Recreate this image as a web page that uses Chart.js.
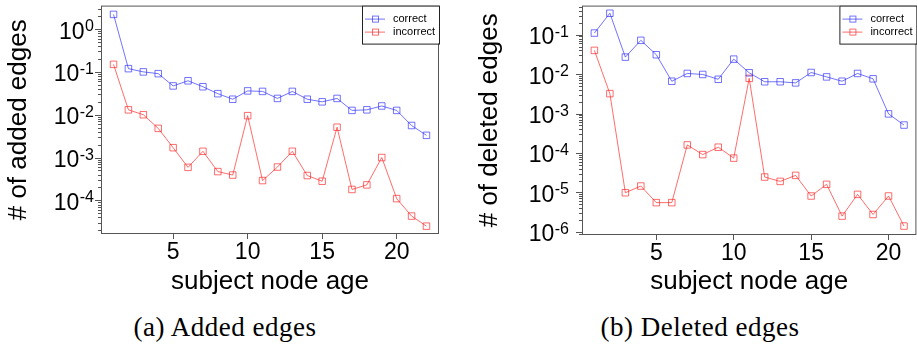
<!DOCTYPE html>
<html>
<head>
<meta charset="utf-8">
<script src="https://cdn.jsdelivr.net/npm/chart.js@4.4.1/dist/chart.umd.min.js"></script>
<style>
  body { margin: 0; background: #fff; width: 917px; height: 354px; overflow: hidden; position: relative; }
  canvas { position: absolute; top: 0; }
  #added { left: 0; }
  #deleted { left: 460px; }
  .cap { position: absolute; top: 314px; width: 450px; text-align: center;
         font-family: 'Liberation Serif', serif; font-size: 27px; line-height: 27px;
         letter-spacing: 0.5px; color: #000; white-space: nowrap; }
</style>
</head>
<body>
<canvas id="added" width="460" height="300"></canvas>
<canvas id="deleted" width="462" height="300"></canvas>
<div class="cap" style="left:0">(a) Added edges</div>
<div class="cap" style="left:475px">(b) Deleted edges</div>
<script>
// subject node age on the x axis
const agesAdded = [1, 2, 3, 4, 5, 6, 7, 8, 9, 10, 11, 12, 13, 14, 15, 16, 17, 18, 19, 20, 21, 22];
const agesDeleted = [1, 2, 3, 4, 5, 6, 7, 8, 9, 10, 11, 12, 13, 14, 15, 16, 17, 18, 19, 20, 21];

// # of added edges
const addedCorrect = [2.2, 0.119, 0.10, 0.091, 0.047, 0.062, 0.045, 0.031, 0.023, 0.036, 0.035,
                      0.024, 0.035, 0.023, 0.020, 0.024, 0.0126, 0.013, 0.016, 0.0126, 0.0056, 0.0033];
const addedIncorrect = [0.15, 0.013, 0.010, 0.0048, 0.0017, 0.00059, 0.0014, 0.00047, 0.00039, 0.0095, 0.00029,
                        0.0006, 0.0014, 0.00038, 0.00028, 0.0051, 0.00018, 0.00023, 0.0010, 0.00011, 0.000043, 0.000025];

// # of deleted edges
const deletedCorrect = [0.11, 0.35, 0.027, 0.072, 0.031, 0.0066, 0.0104, 0.0098, 0.0074, 0.024, 0.0108,
                        0.0064, 0.0064, 0.006, 0.011, 0.0085, 0.0066, 0.0104, 0.0076, 0.00098, 0.00051];
const deletedIncorrect = [0.04, 0.0032, 9.8e-6, 1.45e-5, 5.5e-6, 5.5e-6, 1.6e-4, 9.1e-5, 1.4e-4, 7.4e-5, 0.0078,
                          2.45e-5, 1.9e-5, 2.7e-5, 8.1e-6, 1.6e-5, 2.5e-6, 8.9e-6, 2.75e-6, 8.1e-6, 1.4e-6];

// tick labels
const xTicks = [5, 10, 15, 20];
const yExpAdded = [0, -1, -2, -3, -4];
const yExpDeleted = [-1, -2, -3, -4, -5, -6];
const seriesNames = ['correct', 'incorrect'];

const SANS = "'Liberation Sans', Arial, sans-serif";
const BLUE = 'rgba(40, 40, 255, 0.65)';
const RED = 'rgba(255, 30, 30, 0.65)';
const AXIS = '#555';

/* draws the R-style box, log ticks with 10^n labels, y title and legend */
const frame = (o) => ({
    id: 'frame',
    afterDraw(chart) {
        const ctx = chart.ctx;
        const a = chart.chartArea;
        const ys = chart.scales.y;
        ctx.save();
        ctx.strokeStyle = AXIS;
        ctx.lineWidth = 1;
        ctx.strokeRect(a.left + 0.5, a.top + 0.5, a.right - a.left - 1, a.bottom - a.top - 1);

        // major + minor ticks
        const lo = Math.floor(Math.log10(ys.min)), hi = Math.ceil(Math.log10(ys.max));
        ctx.beginPath();
        for (let d = lo; d <= hi; d++) {
            for (let k = 1; k <= 9; k++) {
                const v = k * Math.pow(10, d);
                if (v < ys.min || v > ys.max) continue;
                const py = Math.round(ys.getPixelForValue(v)) + 0.5;
                const len = k === 1 ? 7 : 4;
                ctx.moveTo(a.left + 1, py);
                ctx.lineTo(a.left + 1 - len, py);
            }
        }
        ctx.stroke();

        // 10^n labels
        ctx.fillStyle = '#000';
        ctx.textAlign = 'right';
        ctx.textBaseline = 'alphabetic';
        o.exps.forEach((e) => {
            const py = ys.getPixelForValue(Math.pow(10, e));
            ctx.font = '16px ' + SANS;
            const sup = String(e);
            ctx.fillText(sup, o.labelRight, py + 2);
            const w = ctx.measureText(sup).width;
            ctx.font = '23px ' + SANS;
            ctx.fillText('10', o.labelRight - w - 0.5, py + 9.5);
        });

        // y title
        ctx.save();
        ctx.translate(o.titleX, (a.top + a.bottom) / 2);
        ctx.rotate(-Math.PI / 2);
        ctx.textAlign = 'center';
        ctx.font = '26px ' + SANS;
        ctx.fillText(o.yTitle, 0, 0);
        ctx.restore();

        // legend
        const bx = a.right - 77, by = a.top, bw = 77, bh = 38;
        ctx.fillStyle = '#fff';
        ctx.fillRect(bx, by, bw, bh);
        ctx.strokeStyle = '#222';
        ctx.strokeRect(bx + 0.5, by + 0.5, bw, bh);
        ctx.font = '11px ' + SANS;
        ctx.textAlign = 'left';
        ctx.textBaseline = 'middle';
        chart.data.datasets.forEach((ds, i) => {
            const ly = by + 13 + i * 13;
            ctx.strokeStyle = ds.borderColor;
            ctx.beginPath();
            ctx.moveTo(bx + 3, ly + 0.5);
            ctx.lineTo(bx + 23, ly + 0.5);
            ctx.stroke();
            ctx.strokeRect(bx + 10.5, ly - 2.5, 6, 6);
            ctx.fillStyle = '#000';
            ctx.fillText(ds.label, bx + 31, ly);
        });
        ctx.restore();
    }
});

const makeDataset = (label, ages, vals, color) => ({
    label: label,
    data: ages.map((a, i) => ({ x: a, y: vals[i] })),
    borderColor: color,
    borderWidth: 1,
    pointStyle: 'rect',
    pointRadius: 4.6,
    pointBorderWidth: 1,
    pointBorderColor: color,
    pointBackgroundColor: 'rgba(0,0,0,0)',
    fill: false,
    tension: 0
});

const makeChart = (id, o) => new Chart(document.getElementById(id), {
    type: 'line',
    data: {
        datasets: [
            makeDataset(seriesNames[0], o.ages, o.correct, BLUE),
            makeDataset(seriesNames[1], o.ages, o.incorrect, RED)
        ]
    },
    options: {
        responsive: false,
        animation: false,
        events: [],
        layout: { padding: { top: o.top, right: o.padRight, left: 0, bottom: 0 } },
        plugins: { legend: { display: false }, tooltip: { enabled: false } },
        scales: {
            x: {
                type: 'linear',
                min: o.xMin,
                max: o.xMax,
                afterFit: (s) => { s.height = 300 - o.bottom; },
                afterBuildTicks: (s) => { s.ticks = xTicks.map((v) => ({ value: v })); },
                grid: { display: true, drawOnChartArea: false, drawTicks: true, tickLength: 5, color: AXIS },
                border: { display: false },
                ticks: { color: '#000', font: { family: SANS, size: 23 }, padding: 0, maxRotation: 0, autoSkip: false },
                title: { display: true, text: 'subject node age', color: '#000',
                         font: { family: SANS, size: 26 }, padding: { top: 0, bottom: 3 } }
            },
            y: {
                type: 'logarithmic',
                min: o.yMin,
                max: o.yMax,
                afterFit: (s) => { s.width = o.left; },
                ticks: { display: false },
                grid: { display: false },
                border: { display: false }
            }
        }
    },
    plugins: [frame(o)]
});

makeChart('added', {
    ages: agesAdded, correct: addedCorrect, incorrect: addedIncorrect,
    xMin: 0.16, xMax: 22.84, yMin: 1.64e-5, yMax: 3.53,
    left: 101, top: 3, bottom: 234, padRight: 21,
    exps: yExpAdded, labelRight: 94, titleX: 26, yTitle: '# of added edges'
});

makeChart('deleted', {
    ages: agesDeleted, correct: deletedCorrect, incorrect: deletedIncorrect,
    xMin: 0.2, xMax: 21.8, yMin: 8.3e-7, yMax: 0.547,
    left: 122, top: 4, bottom: 235, padRight: 3,
    exps: yExpDeleted, labelRight: 109, titleX: 37, yTitle: '# of deleted edges'
});
</script>
</body>
</html>
